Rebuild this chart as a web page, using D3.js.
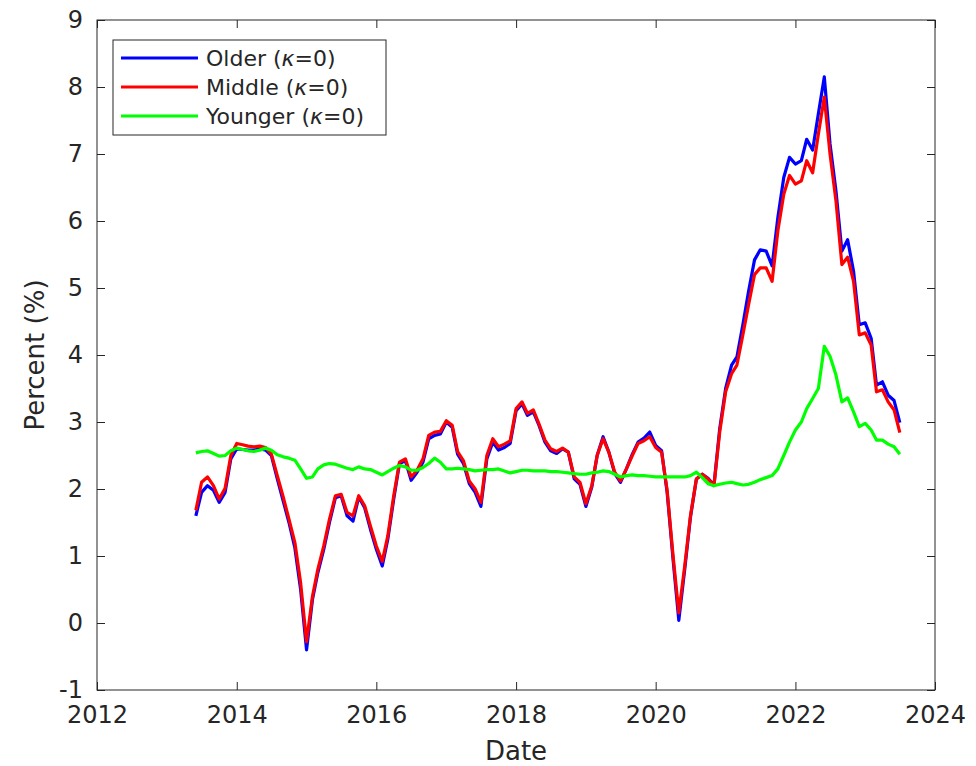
<!DOCTYPE html>
<html>
<head>
<meta charset="utf-8">
<script src="https://cdn.jsdelivr.net/npm/d3@7"></script>
<style>
  html, body { margin: 0; padding: 0; background: #fff; }
  svg { display: block; font-family: "DejaVu Sans", sans-serif; }
</style>
</head>
<body>
<svg id="chart" width="976" height="766"></svg>
<script>
// Monthly inflation by age group, Jun 2013 – Jul 2023
const startMonth = "2013-06";
const olderValues = [
  1.60, 1.95, 2.05, 1.98, 1.80, 1.95, 2.45, 2.60, 2.59, 2.58, 2.58, 2.60, 2.58, 2.50, 2.15, 1.82,
  1.50, 1.12, 0.50, -0.40, 0.35, 0.75, 1.10, 1.50, 1.87, 1.90, 1.60, 1.52, 1.88, 1.72, 1.40, 1.10,
  0.85, 1.25, 1.85, 2.38, 2.42, 2.13, 2.25, 2.40, 2.75, 2.80, 2.82, 3.00, 2.92, 2.52, 2.38, 2.08,
  1.95, 1.74, 2.45, 2.70, 2.58, 2.62, 2.68, 3.17, 3.27, 3.10, 3.15, 2.95, 2.70, 2.57, 2.53, 2.60,
  2.55, 2.15, 2.07, 1.74, 2.03, 2.50, 2.78, 2.55, 2.23, 2.10, 2.30, 2.52, 2.70, 2.76, 2.85, 2.65,
  2.57, 1.95, 0.95, 0.04, 0.80, 1.58, 2.15, 2.22, 2.16, 2.06, 2.90, 3.50, 3.85, 3.97, 4.45, 4.95,
  5.42, 5.57, 5.55, 5.33, 6.05, 6.65, 6.95, 6.85, 6.90, 7.22, 7.06, 7.60, 8.15, 7.15, 6.45, 5.55,
  5.72, 5.25, 4.45, 4.48, 4.25, 3.55, 3.60, 3.40, 3.32, 2.99
];
const middleValues = [
  1.68, 2.10, 2.18, 2.05, 1.85, 2.01, 2.50, 2.68, 2.66, 2.64, 2.63, 2.64, 2.62, 2.52, 2.20, 1.88,
  1.55, 1.20, 0.60, -0.28, 0.40, 0.80, 1.15, 1.55, 1.90, 1.92, 1.65, 1.60, 1.90, 1.75, 1.45, 1.15,
  0.92, 1.30, 1.90, 2.40, 2.45, 2.18, 2.28, 2.45, 2.80, 2.85, 2.86, 3.02, 2.95, 2.56, 2.42, 2.12,
  2.00, 1.80, 2.50, 2.75, 2.63, 2.67, 2.72, 3.20, 3.30, 3.13, 3.18, 2.97, 2.73, 2.60, 2.56, 2.61,
  2.55, 2.18, 2.10, 1.78, 2.05, 2.50, 2.75, 2.55, 2.25, 2.12, 2.30, 2.50, 2.68, 2.72, 2.78, 2.62,
  2.55, 1.98, 1.00, 0.15, 0.85, 1.60, 2.15, 2.22, 2.15, 2.05, 2.85, 3.45, 3.72, 3.85, 4.30, 4.75,
  5.20, 5.30, 5.30, 5.10, 5.85, 6.40, 6.68, 6.55, 6.60, 6.90, 6.72, 7.30, 7.85, 7.00, 6.30, 5.35,
  5.46, 5.10, 4.30, 4.33, 4.15, 3.45, 3.48, 3.30, 3.18, 2.84
];
const youngerValues = [
  2.54, 2.56, 2.57, 2.53, 2.49, 2.50, 2.57, 2.61, 2.59, 2.57, 2.56, 2.58, 2.61, 2.58, 2.51, 2.48,
  2.46, 2.43, 2.30, 2.16, 2.18, 2.30, 2.36, 2.38, 2.37, 2.34, 2.31, 2.29, 2.33, 2.30, 2.29, 2.25,
  2.21, 2.26, 2.31, 2.35, 2.33, 2.28, 2.28, 2.32, 2.38, 2.46, 2.40, 2.30, 2.30, 2.31, 2.30, 2.29,
  2.27, 2.28, 2.29, 2.29, 2.30, 2.27, 2.24, 2.26, 2.28, 2.28, 2.27, 2.27, 2.27, 2.26, 2.26, 2.25,
  2.24, 2.23, 2.22, 2.22, 2.24, 2.25, 2.27, 2.26, 2.22, 2.18, 2.20, 2.21, 2.20, 2.20, 2.19, 2.18,
  2.18, 2.18, 2.18, 2.18, 2.18, 2.20, 2.25, 2.17, 2.08, 2.05, 2.07, 2.09, 2.10, 2.08, 2.06, 2.07,
  2.10, 2.14, 2.17, 2.20, 2.30, 2.50, 2.70, 2.88, 3.00, 3.20, 3.35, 3.50, 4.13, 3.98, 3.70, 3.30,
  3.36, 3.15, 2.93, 2.98, 2.88, 2.73, 2.73, 2.67, 2.63, 2.52
];
const seriesNames = ["Older", "Middle", "Younger"];
const seriesColors = ["#0000ff", "#ff0000", "#00ff00"];
const xTickYears = [2012, 2014, 2016, 2018, 2020, 2022, 2024];
const yTickValues = [-1, 0, 1, 2, 3, 4, 5, 6, 7, 8, 9];

const parseMonth = d3.timeParse("%Y-%m");
const t0 = parseMonth(startMonth);
const dates = olderValues.map((_, i) => d3.timeMonth.offset(t0, i));
const seriesValues = [olderValues, middleValues, youngerValues];

const svg = d3.select("#chart");
const margin = { left: 97, right: 41, top: 20, bottom: 76 };
const W = 976, H = 766;
const x = d3.scaleTime()
  .domain([new Date(2012, 0, 1), new Date(2024, 0, 1)])
  .range([margin.left, W - margin.right]);
const y = d3.scaleLinear()
  .domain([-1, 9])
  .range([H - margin.bottom, margin.top]);

const axisColor = "#262626";
const tickLen = 8;
const x0 = x.range()[0], x1 = x.range()[1];
const y0 = y.range()[0], y1 = y.range()[1];

// Lines
const line = d3.line()
  .x((d, i) => x(dates[i]))
  .y(d => y(d));
const plot = svg.append("g");
seriesValues.forEach((vals, s) => {
  plot.append("path")
    .datum(vals)
    .attr("d", line)
    .attr("fill", "none")
    .attr("stroke", seriesColors[s])
    .attr("stroke-width", 3.2)
    .attr("stroke-linejoin", "round");
});

// Axes: ticks inward, drawn on all four sides
const xTicks = xTickYears.map(yr => new Date(yr, 0, 1));
const bottomAxis = d3.axisBottom(x).tickValues(xTicks)
  .tickFormat(d3.timeFormat("%Y")).tickSize(-tickLen).tickPadding(16);
const topAxis = d3.axisTop(x).tickValues(xTicks).tickFormat("").tickSize(-tickLen);
const leftAxis = d3.axisLeft(y).tickValues(yTickValues)
  .tickFormat(d => String(d)).tickSize(-tickLen).tickPadding(14);
const rightAxis = d3.axisRight(y).tickValues(yTickValues).tickFormat("").tickSize(-tickLen);

function styleAxis(g) {
  g.select(".domain").remove();
  g.selectAll("line").attr("stroke", axisColor).attr("stroke-width", 1);
  g.selectAll("text").attr("fill", axisColor).style("font-size", "24px")
    .style("font-family", "DejaVu Sans, sans-serif");
}
svg.append("g").attr("transform", `translate(0,${y0})`).call(bottomAxis).call(styleAxis);
svg.append("g").attr("transform", `translate(0,${y1})`).call(topAxis).call(styleAxis);
svg.append("g").attr("transform", `translate(${x0},0)`).call(leftAxis).call(styleAxis);
svg.append("g").attr("transform", `translate(${x1},0)`).call(rightAxis).call(styleAxis);

// Box
svg.append("rect")
  .attr("x", x0).attr("y", y1)
  .attr("width", x1 - x0).attr("height", y0 - y1)
  .attr("fill", "none").attr("stroke", axisColor).attr("stroke-width", 1);

// Axis titles
svg.append("text")
  .attr("x", (x0 + x1) / 2).attr("y", 760)
  .attr("text-anchor", "middle")
  .attr("fill", axisColor).style("font-size", "26px")
  .text("Date");
svg.append("text")
  .attr("transform", `translate(44,${(y0 + y1) / 2}) rotate(-90)`)
  .attr("text-anchor", "middle")
  .attr("fill", axisColor).style("font-size", "26px")
  .text("Percent (%)");

// Legend
const legend = svg.append("g");
legend.append("rect")
  .attr("x", 113).attr("y", 40).attr("width", 273).attr("height", 95)
  .attr("fill", "#fff").attr("stroke", axisColor).attr("stroke-width", 1);
seriesNames.forEach((name, i) => {
  const ly = 58 + i * 29;
  legend.append("line")
    .attr("x1", 121).attr("x2", 198).attr("y1", ly).attr("y2", ly)
    .attr("stroke", seriesColors[i]).attr("stroke-width", 3.2);
  const t = legend.append("text")
    .attr("x", 206).attr("y", ly + 8)
    .attr("fill", axisColor).style("font-size", "22px");
  t.append("tspan").text(name + " (");
  t.append("tspan").style("font-style", "italic").text("κ");
  t.append("tspan").text("=0)");
});
</script>
</body>
</html>
